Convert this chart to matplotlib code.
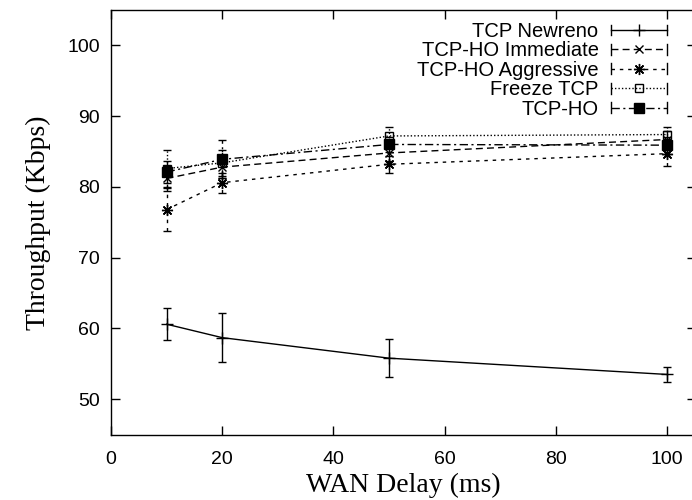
import numpy as np
import matplotlib
matplotlib.use("Agg")
import matplotlib.pyplot as plt
from matplotlib.lines import Line2D
from matplotlib.legend_handler import HandlerBase

# WAN delay (ms) and mean throughput (Kbps) with error half-widths
delay = [10, 20, 50, 100]

newreno = [60.6, 58.7, 55.8, 53.5]
newreno_err = [2.3, 3.5, 2.7, 1.1]

immediate = [81.2, 82.8, 84.8, 86.7]
immediate_err = [1.8, 1.5, 1.2, 1.2]

aggressive = [76.8, 80.6, 83.2, 84.7]
aggressive_err = [3.0, 1.4, 1.2, 1.8]

freeze = [82.6, 83.4, 87.2, 87.4]
freeze_err = [2.6, 1.8, 1.2, 1.0]

tcpho = [82.1, 83.9, 86.0, 85.9]
tcpho_err = [1.5, 2.7, 1.0, 1.2]

labels = ["TCP Newreno", "TCP-HO Immediate", "TCP-HO Aggressive", "Freeze TCP", "TCP-HO"]

SANS = "Liberation Sans"
SERIF = "Liberation Serif"


class HandlerCapped(HandlerBase):
    # gnuplot-like key sample: |----o----|
    def create_artists(self, legend, orig_handle, xdescent, ydescent,
                       width, height, fontsize, trans):
        y = height / 2 - ydescent
        x0, x1 = -xdescent, -xdescent + width
        line = Line2D([x0, x1], [y, y])
        self.update_prop(line, orig_handle, legend)
        line.set_marker("None")
        mark = Line2D([(x0 + x1) / 2], [y])
        self.update_prop(mark, orig_handle, legend)
        mark.set_linestyle("None")
        c = height * 0.38
        caps = Line2D([x0, x0, np.nan, x1, x1], [y - c, y + c, np.nan, y - c, y + c],
                      color="black", lw=1.0)
        for a in (line, mark, caps):
            a.set_transform(trans)
        return [line, caps, mark]


fig = plt.figure(figsize=(6.92, 5.0), dpi=100)
ax = fig.add_axes([111 / 692, 65.4 / 500, 585 / 692, 424.6 / 500])

series = [
    (newreno, newreno_err, "-", "+", dict(markersize=8)),
    (immediate, immediate_err, (0, (5, 3)), "x", dict(markersize=6)),
    (aggressive, aggressive_err, (0, (2.5, 3.5)), (8, 2, 0), dict(markersize=8)),
    (freeze, freeze_err, (0, (1, 1.5)), "s", dict(markersize=6, markerfacecolor="none")),
    (tcpho, tcpho_err, (0, (6, 2.5, 1.5, 2.5)), "s", dict(markersize=7)),
]

handles = []
for (vals, err, ls, mk, kw), lab in zip(series, labels):
    cont = ax.errorbar(delay, vals, yerr=err, color="black", lw=1.0, ls=ls,
                       marker=mk, markeredgewidth=1.0, capsize=3, capthick=1.0,
                       elinewidth=1.0, label=lab, **kw)
    for bar in cont[2]:
        bar.set_linestyle(ls)
    handles.append(cont[0])

ax.set_xlim(0, 105.2)
ax.set_ylim(45, 105)
ax.set_xticks([0, 20, 40, 60, 80, 100])
ax.set_yticks([50, 60, 70, 80, 90, 100])
ax.tick_params(direction="in", length=6.5, width=1.0, top=True, right=True,
               labelsize=14, pad=12)
ax.tick_params(axis="y", pad=8)
for t in ax.get_xticklabels() + ax.get_yticklabels():
    t.set_fontfamily(SANS)
for s in ax.spines.values():
    s.set_linewidth(1.0)
# the reference crops its right border off; only the inward ticks show
ax.spines["right"].set_visible(False)

ax.set_xlabel("WAN Delay (ms)", fontsize=20, family=SERIF)
ax.set_ylabel("Throughput (Kbps)", fontsize=20, family=SERIF)
ax.xaxis.label.set_va("center")
ax.xaxis.set_label_coords(0.5, (434.6 - 485) / 424.6)
ax.yaxis.label.set_va("center")
ax.yaxis.set_label_coords((38 - 111) / 585, 0.5)

ax.legend(handles, labels, handler_map={Line2D: HandlerCapped()},
          loc="upper right", bbox_to_anchor=(667 / 692, 1 - 22 / 500),
          bbox_transform=fig.transFigure, frameon=False, markerfirst=False,
          handlelength=2.8, handletextpad=0.6, labelspacing=0.02,
          borderpad=0, borderaxespad=0, prop={"family": SANS, "size": 14.5})

fig.savefig("out.png", dpi=100)
